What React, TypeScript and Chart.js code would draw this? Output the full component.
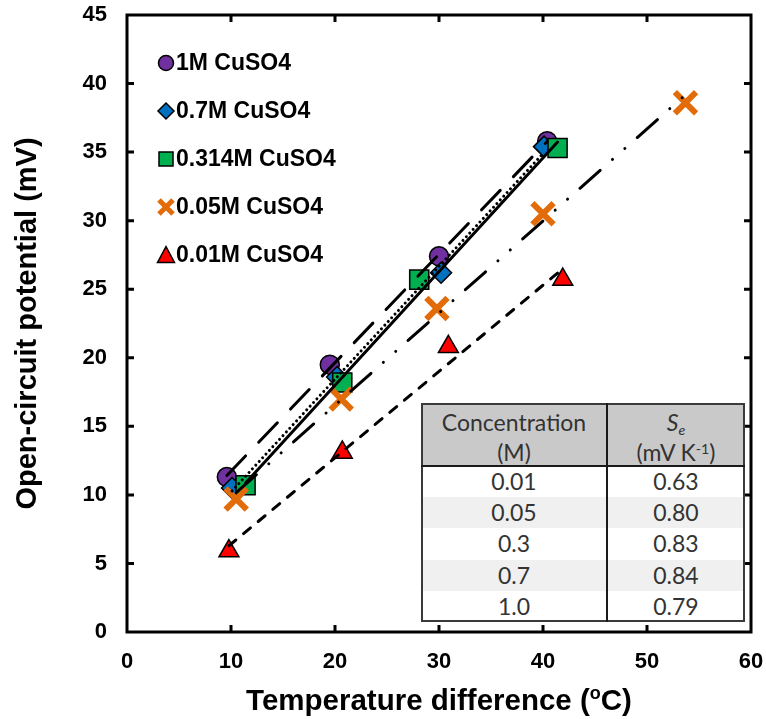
import React, { useEffect, useRef } from 'react';
import { Chart, registerables } from 'chart.js';

Chart.register(...registerables);

// ---------- data ----------
const SERIES_NAMES = ['1M CuSO4', '0.7M CuSO4', '0.314M CuSO4', '0.05M CuSO4', '0.01M CuSO4'];

const X_1M = [9.6, 19.5, 30.0, 40.4];
const Y_1M = [11.3, 19.5, 27.4, 35.8];

const X_07M = [10.1, 20.2, 30.2, 40.1];
const Y_07M = [10.5, 18.6, 26.2, 35.4];

const X_0314M = [11.4, 20.7, 28.1, 41.4];
const Y_0314M = [10.7, 18.2, 25.7, 35.3];

const X_005M = [10.5, 20.6, 29.8, 40.0, 53.7];
const Y_005M = [9.7, 17.0, 23.6, 30.5, 38.6];

const X_001M = [9.8, 20.7, 30.9, 41.9];
const Y_001M = [5.9, 13.1, 20.8, 25.7];

const X_MIN = 0, X_MAX = 60, X_STEP = 10;
const Y_MIN = 0, Y_MAX = 45, Y_STEP = 5;

const X_TITLE_MAIN = 'Temperature difference (';
const X_TITLE_SUP = 'o';
const X_TITLE_END = 'C)';
const Y_TITLE = 'Open-circuit potential (mV)';

const TABLE_HEAD_1 = ['Concentration', '(M)'];
const TABLE_CONC = ['0.01', '0.05', '0.3', '0.7', '1.0'];
const TABLE_SE = ['0.63', '0.80', '0.83', '0.84', '0.79'];

// ---------- styles ----------
const FONT = '"Liberation Sans", Arial, sans-serif';
const COLORS = ['#7030A0', '#0070C0', '#00B050', '#E36C0A', '#FF0000'];
const MARKERS = ['circle', 'diamond', 'square', 'cross', 'triangle'];

function toPoints(xs: number[], ys: number[]) {
  return xs.map((x, i) => ({ x, y: ys[i] }));
}

function fitLine(xs: number[], ys: number[]) {
  const n = xs.length;
  const mx = xs.reduce((a, b) => a + b, 0) / n;
  const my = ys.reduce((a, b) => a + b, 0) / n;
  let sxy = 0, sxx = 0;
  for (let i = 0; i < n; i++) {
    sxy += (xs[i] - mx) * (ys[i] - my);
    sxx += (xs[i] - mx) * (xs[i] - mx);
  }
  const m = sxy / sxx;
  const b = my - m * mx;
  const x0 = Math.min(...xs), x1 = Math.max(...xs);
  return [{ x: x0, y: m * x0 + b }, { x: x1, y: m * x1 + b }];
}

function drawMarker(ctx: CanvasRenderingContext2D, kind: string, x: number, y: number, s: number, color: string) {
  ctx.save();
  ctx.fillStyle = color;
  ctx.strokeStyle = '#000';
  ctx.lineWidth = 1.5;
  ctx.beginPath();
  if (kind === 'circle') {
    ctx.arc(x, y, s, 0, Math.PI * 2);
    ctx.fill(); ctx.stroke();
  } else if (kind === 'diamond') {
    ctx.moveTo(x, y - s); ctx.lineTo(x + s, y); ctx.lineTo(x, y + s); ctx.lineTo(x - s, y); ctx.closePath();
    ctx.fill(); ctx.stroke();
  } else if (kind === 'square') {
    ctx.rect(x - s, y - s, 2 * s, 2 * s);
    ctx.fill(); ctx.stroke();
  } else if (kind === 'triangle') {
    const h = s * 1.75;
    ctx.moveTo(x, y - h / 2 - 1); ctx.lineTo(x + s, y + h / 2); ctx.lineTo(x - s, y + h / 2); ctx.closePath();
    ctx.fill(); ctx.stroke();
  } else if (kind === 'cross') {
    ctx.strokeStyle = color;
    ctx.lineWidth = 5;
    ctx.moveTo(x - s, y - s); ctx.lineTo(x + s, y + s);
    ctx.moveTo(x + s, y - s); ctx.lineTo(x - s, y + s);
    ctx.stroke();
  }
  ctx.restore();
}

const decorPlugin = {
  id: 'decor',
  afterDraw(chart: any) {
    const { ctx, chartArea: a } = chart;
    const xs = chart.scales.x;
    const ys = chart.scales.y;
    ctx.save();
    // frame
    ctx.strokeStyle = '#000';
    ctx.lineWidth = 3;
    ctx.strokeRect(a.left, a.top, a.right - a.left, a.bottom - a.top);
    // inward tick marks on all sides
    const TL = 7;
    ctx.beginPath();
    xs.ticks.forEach((t: any) => {
      if (t.value <= X_MIN || t.value >= X_MAX) return;
      const px = xs.getPixelForValue(t.value);
      ctx.moveTo(px, a.bottom); ctx.lineTo(px, a.bottom - TL);
      ctx.moveTo(px, a.top); ctx.lineTo(px, a.top + TL);
    });
    ys.ticks.forEach((t: any) => {
      if (t.value <= Y_MIN || t.value >= Y_MAX) return;
      const py = ys.getPixelForValue(t.value);
      ctx.moveTo(a.left, py); ctx.lineTo(a.left + TL, py);
      ctx.moveTo(a.right, py); ctx.lineTo(a.right - TL, py);
    });
    ctx.stroke();

    // x title with superscript
    ctx.fillStyle = '#000';
    ctx.textBaseline = 'alphabetic';
    ctx.textAlign = 'left';
    const big = `bold 29.5px ${FONT}`;
    const small = `bold 18px ${FONT}`;
    ctx.font = big;
    const w1 = ctx.measureText(X_TITLE_MAIN).width;
    const w3 = ctx.measureText(X_TITLE_END).width;
    ctx.font = small;
    const w2 = ctx.measureText(X_TITLE_SUP).width;
    const total = w1 + w2 + w3;
    const cx = (a.left + a.right) / 2;
    const sx = cx - total / 2;
    const by = 710;
    ctx.font = big;
    ctx.fillText(X_TITLE_MAIN, sx, by);
    ctx.font = small;
    ctx.fillText(X_TITLE_SUP, sx + w1, by - 11);
    ctx.font = big;
    ctx.fillText(X_TITLE_END, sx + w1 + w2, by);

    // y title
    ctx.save();
    ctx.translate(36, (a.top + a.bottom) / 2);
    ctx.rotate(-Math.PI / 2);
    ctx.textAlign = 'center';
    ctx.font = `bold 29px ${FONT}`;
    ctx.fillText(Y_TITLE, 0, 0);
    ctx.restore();

    // legend
    const legendSizes = [7.5, 8, 7, 7, 8.5];
    ctx.font = `bold 23px ${FONT}`;
    ctx.textBaseline = 'middle';
    ctx.textAlign = 'left';
    SERIES_NAMES.forEach((name, i) => {
      const y = 63 + i * 48;
      drawMarker(ctx, MARKERS[i], 166, y, legendSizes[i], COLORS[i]);
      ctx.fillStyle = '#000';
      ctx.fillText(name, 176, y + 1);
    });
    ctx.restore();
  },
};

export default function App() {
  const ref = useRef<HTMLCanvasElement | null>(null);

  useEffect(() => {
    if (!ref.current) return;
    const markerBase = (i: number) => ({
      label: SERIES_NAMES[i],
      showLine: false,
      backgroundColor: COLORS[i],
      borderColor: '#000',
      pointBorderWidth: 1.5,
      pointBackgroundColor: COLORS[i],
      pointBorderColor: '#000',
    });
    const trend = (xs: number[], ys: number[], dash: number[], order: number) => ({
      label: 'trend',
      data: fitLine(xs, ys),
      showLine: true,
      borderColor: '#000',
      borderWidth: 3,
      borderDash: dash,
      borderCapStyle: 'round',
      pointRadius: 0,
      order,
    });
    const chart = new Chart(ref.current, {
      type: 'scatter',
      data: {
        datasets: [
          { ...markerBase(0), data: toPoints(X_1M, Y_1M), pointStyle: 'circle', pointRadius: 9.5, order: 15 },
          { ...markerBase(1), data: toPoints(X_07M, Y_07M), pointStyle: 'rectRot', pointRadius: 10.5, order: 14 },
          { ...markerBase(2), data: toPoints(X_0314M, Y_0314M), pointStyle: 'rect', pointRadius: 13.5, order: 13 },
          {
            label: SERIES_NAMES[3], data: toPoints(X_005M, Y_005M), showLine: false, pointStyle: 'crossRot',
            pointRadius: 15, pointBorderWidth: 6, pointBorderColor: COLORS[3], borderColor: COLORS[3],
            backgroundColor: COLORS[3], order: 12,
          },
          { ...markerBase(4), data: toPoints(X_001M, Y_001M), pointStyle: 'triangle', pointRadius: 11.5, order: 11 },
          trend(X_1M, Y_1M, [27, 19], 5),
          trend(X_07M, Y_07M, [0.01, 5], 4),
          trend(X_0314M, Y_0314M, [], 3),
          trend(X_005M, Y_005M, [27, 16.5, 0.01, 16.5, 0.01, 16.5], 2),
          trend(X_001M, Y_001M, [9, 10], 1),
        ] as any,
      },
      options: {
        animation: false,
        responsive: false,
        layout: { autoPadding: false, padding: { left: 0, right: 15, top: 15, bottom: 0 } },
        plugins: { legend: { display: false }, tooltip: { enabled: false } },
        scales: {
          x: {
            type: 'linear',
            min: X_MIN, max: X_MAX,
            ticks: { stepSize: X_STEP, color: '#000', font: { family: FONT, size: 22, weight: 'bold' }, padding: 17, maxRotation: 0 },
            grid: { display: false, drawTicks: false },
            border: { display: false },
            afterFit: (s: any) => { s.height = 87; s.paddingLeft = 0; s.paddingRight = 0; s.paddingTop = 0; s.paddingBottom = 0; },
          },
          y: {
            type: 'linear',
            min: Y_MIN, max: Y_MAX,
            ticks: { stepSize: Y_STEP, color: '#000', font: { family: FONT, size: 22, weight: 'bold' }, padding: 20 },
            grid: { display: false, drawTicks: false },
            border: { display: false },
            afterFit: (s: any) => { s.width = 127; s.paddingLeft = 0; s.paddingRight = 0; s.paddingTop = 0; s.paddingBottom = 0; },
          },
        },
      } as any,
      plugins: [decorPlugin],
    });
    return () => chart.destroy();
  }, []);

  const tL = 421, tT = 403, tW = 324, tH = 219, colX = 607, headB = 466;
  const rowH = (tT + tH - headB) / TABLE_CONC.length;
  const tfont = 'Lato, "Noto Sans", sans-serif';
  const cellText = (left: number, width: number, top: number, height: number, content: React.ReactNode, key: string) => (
    <div key={key} style={{
      position: 'absolute', left, top, width, height, display: 'flex', alignItems: 'center',
      justifyContent: 'center', fontFamily: tfont, fontSize: 23, color: '#333', lineHeight: 1, whiteSpace: 'nowrap',
    }}>{content}</div>
  );

  return (
    <div style={{ position: 'absolute', left: 0, top: 0, width: 766, height: 719, background: '#fff' }}>
      <canvas ref={ref} width={766} height={719} style={{ position: 'absolute', left: 0, top: 0, width: 766, height: 719 }} />
      {/* table */}
      <div style={{ position: 'absolute', left: tL, top: tT, width: tW, height: tH, background: '#fff' }} />
      <div style={{ position: 'absolute', left: tL, top: tT, width: tW, height: headB - tT, background: '#C9C9C9' }} />
      {TABLE_CONC.map((_, i) => (
        <div key={'bg' + i} style={{
          position: 'absolute', left: tL, top: headB + i * rowH, width: tW, height: rowH,
          background: i % 2 === 1 ? '#F0F0F0' : '#FFFFFF',
        }} />
      ))}
      {cellText(tL, colX - tL, tT + 4, 30, TABLE_HEAD_1[0], 'h1a')}
      {cellText(tL, colX - tL, tT + 34, 30, TABLE_HEAD_1[1], 'h1b')}
      {cellText(colX, tL + tW - colX, tT + 4, 30, <span><i>S</i><sub style={{ fontSize: '0.62em', verticalAlign: '-0.3em', lineHeight: 0 }}><i>e</i></sub></span>, 'h2a')}
      {cellText(colX, tL + tW - colX, tT + 34, 30, <span>(mV K<sup style={{ fontSize: '0.62em', verticalAlign: '0.5em', lineHeight: 0 }}>-1</sup>)</span>, 'h2b')}
      {TABLE_CONC.map((c, i) => cellText(tL, colX - tL, headB + i * rowH, rowH, c, 'c' + i))}
      {TABLE_SE.map((c, i) => cellText(colX, tL + tW - colX, headB + i * rowH, rowH, c, 's' + i))}
      {/* borders */}
      <div style={{ position: 'absolute', left: tL, top: tT, width: tW, height: tH, border: '2px solid #3a3a3a', boxSizing: 'border-box' }} />
      <div style={{ position: 'absolute', left: colX - 1, top: tT, width: 2, height: tH, background: '#1a1a1a' }} />
      <div style={{ position: 'absolute', left: tL, top: headB - 1, width: tW, height: 2, background: '#1a1a1a' }} />
    </div>
  );
}
